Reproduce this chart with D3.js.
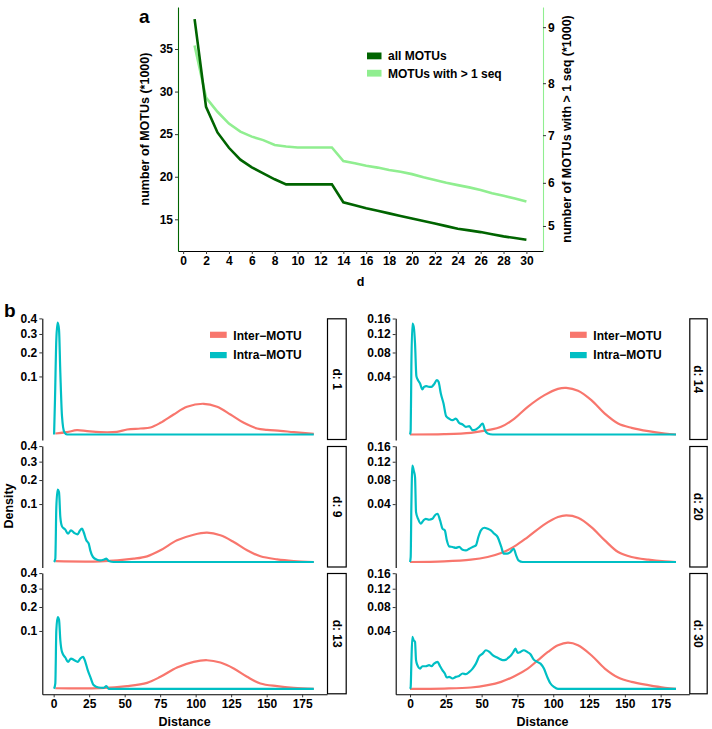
<!DOCTYPE html>
<html>
<head>
<meta charset="utf-8">
<script src="https://cdn.jsdelivr.net/npm/d3@7"></script>
<style>
  body { margin: 0; background: #fff; }
  text { font-family: "Liberation Sans", Arial, sans-serif; font-weight: bold; fill: #000; }
</style>
</head>
<body>
<div id="here"></div>
<script>
// ---- panel a data ----
var dSteps = [1,2,3,4,5,6,7,8,9,10,11,12,13,14,15,16,17,18,19,20,21,22,23,24,25,26,27,28,29,30];
var allMotus = [38.5,28.2,25.2,23.4,22.0,21.1,20.4,19.7,19.1,19.1,19.1,19.1,19.1,17.0,16.65,16.3,16.0,15.7,15.4,15.1,14.8,14.5,14.2,13.9,13.7,13.5,13.25,13.0,12.8,12.6];
var motusMulti = [8.68,7.73,7.46,7.23,7.07,6.97,6.90,6.80,6.77,6.75,6.75,6.75,6.75,6.47,6.42,6.37,6.33,6.28,6.24,6.19,6.12,6.06,6.0,5.95,5.9,5.84,5.77,5.71,5.65,5.58];
var dTicks = [0,2,4,6,8,10,12,14,16,18,20,22,24,26,28,30];
var leftTicksA = [15,20,25,30,35];
var rightTicksA = [5,6,7,8,9];
var legendA = ["all MOTUs", "MOTUs with > 1 seq"];

// ---- panel b data: [distance, density] ----
var inter1 = [[1.2,0.00003],[9.4,0.00016],[16.4,0.00056],[23.5,0.00033],[32.9,0.00016],[44.6,0.00021],[51.7,0.00074],[61.1,0.00107],[68.1,0.00146],[75.2,0.00405],[84.5,0.0119],[93.9,0.0228],[105.7,0.028],[115.1,0.0228],[124.5,0.0119],[133.9,0.00405],[143.3,0.00107],[150.3,0.00065],[159.7,0.0004],[169.1,0.00016],[183.2,0.00001]];
var intra1 = [[0.3,0],[0.94,0.0364],[1.88,0.268],[2.82,0.371],[3.76,0.328],[4.7,0.113],[5.87,0.01],[7.5,0.00016],[9.4,0],[183.2,0]];
var inter9 = [[1.2,0.00002],[32.9,0.000013],[56.4,0.00033],[65.8,0.00096],[75.2,0.00405],[86.9,0.014],[98.6,0.0222],[108.0,0.0256],[117.4,0.0212],[126.8,0.0119],[136.2,0.00405],[145.6,0.00096],[157.4,0.00021],[169.1,0.00003],[183.2,0]];
var intra9 = [[0.3,0],[1.17,0.00033],[1.88,0.09],[2.82,0.156],[3.76,0.146],[4.7,0.06],[5.87,0.0378],[8.2,0.0311],[10.1,0.0239],[12.2,0.0298],[14.6,0.025],[16.9,0.0228],[18.3,0.0286],[20.0,0.033],[21.1,0.0268],[23.0,0.014],[24.7,0.01],[25.8,0.00405],[27.7,0.00074],[30.5,0.00016],[32.9,0.00008],[35.2,0.00016],[37.1,0.00033],[38.8,0.00003],[42.3,0],[183.2,0]];
var inter13 = [[1.2,0.00001],[32.9,0.000013],[51.7,0.00021],[65.8,0.00107],[75.2,0.0043],[86.9,0.0135],[98.6,0.0217],[108.0,0.0244],[117.4,0.0206],[126.8,0.0123],[136.2,0.0043],[145.6,0.00085],[157.4,0.00021],[169.1,0.00003],[183.2,0]];
var intra13 = [[0.3,0],[1.17,0.00085],[1.88,0.102],[2.82,0.154],[3.76,0.143],[4.7,0.0705],[5.87,0.0407],[8.2,0.0292],[10.1,0.0217],[12.2,0.0274],[14.6,0.0244],[16.9,0.0217],[18.8,0.0274],[20.7,0.0305],[22.3,0.0217],[24.0,0.0104],[25.8,0.0043],[28.2,0.0004],[31.7,0.00005],[35.2,0.00003],[37.1,0.00021],[38.8,0],[183.2,0]];
var inter14 = [[0,0],[23.8,0.0000013],[42.5,0.000033],[54.2,0.00022],[63.6,0.0007],[72.9,0.003],[82.2,0.0091],[93.9,0.0184],[103.3,0.0248],[109.1,0.0259],[117.3,0.0227],[126.6,0.014],[136.0,0.0052],[145.3,0.00144],[154.7,0.00053],[166.4,0.00013],[178,0.000012],[185.7,0]];
var intra14 = [[0,0],[0.47,0.00022],[0.93,0.0544],[1.64,0.1465],[2.57,0.138],[3.5,0.0985],[4.44,0.0405],[5.6,0.0351],[7.0,0.0309],[8.64,0.0241],[9.8,0.027],[11.45,0.0278],[13.3,0.027],[14.95,0.027],[16.8,0.0301],[18.7,0.0351],[19.9,0.033],[21.5,0.02],[23.4,0.0114],[25.2,0.004],[27.3,0.003],[29.7,0.00244],[32.0,0.003],[34.3,0.00162],[36.7,0.00119],[39.0,0.0007],[41.4,0.00083],[43.7,0.00022],[46.0,0.0003],[48.4,0.0007],[50.7,0.00144],[52.3,0.00022],[54.2,0.000012],[57.7,0],[185.7,0]];
var inter20 = [[0,0],[23.8,0.000005],[42.5,0.000065],[54.2,0.0003],[63.6,0.00096],[72.9,0.0029],[82.2,0.0074],[93.9,0.0169],[103.3,0.0241],[109.1,0.0259],[117.3,0.0234],[126.6,0.0146],[136.0,0.0056],[145.3,0.00119],[154.7,0.0003],[166.4,0.000065],[178,0.000005],[185.7,0]];
var intra20 = [[0,0],[0.47,0.0003],[0.93,0.036],[1.64,0.111],[2.57,0.1],[3.5,0.086],[4.2,0.0297],[5.6,0.0223],[7.5,0.0175],[9.35,0.0206],[11.0,0.0223],[13.3,0.0213],[15.65,0.0223],[17.3,0.0259],[19.2,0.0278],[21.0,0.0206],[22.7,0.0132],[24.3,0.0119],[25.7,0.0056],[27.3,0.0029],[29.7,0.0027],[32.0,0.0024],[34.3,0.0027],[36.7,0.0018],[39.0,0.0016],[41.4,0.0021],[43.7,0.0027],[46.0,0.0033],[47.7,0.0074],[49.5,0.0119],[51.9,0.014],[54.2,0.0132],[56.5,0.0119],[58.9,0.0095],[61.2,0.0074],[63.6,0.0029],[65.4,0.00083],[67.8,0.00083],[70.1,0.00119],[72.4,0.0021],[74.1,0.00053],[75.7,0.000033],[78.7,0],[185.7,0]];
var inter30 = [[0,0],[23.8,0.000001],[42.5,0.00002],[54.2,0.00016],[63.6,0.00058],[72.9,0.0019],[82.2,0.0049],[89.3,0.0098],[96.3,0.0163],[103.3,0.0227],[110.3,0.0255],[117.3,0.0227],[126.6,0.0135],[136.0,0.0049],[145.3,0.00153],[154.7,0.00058],[166.4,0.00016],[178,0.000012],[185.7,0]];
var intra30 = [[0,0],[0.47,0.000048],[0.93,0.0076],[1.64,0.0322],[2.57,0.0282],[3.5,0.0263],[4.2,0.0098],[5.14,0.0067],[7.0,0.0049],[8.64,0.0061],[11.0,0.0061],[13.3,0.0067],[14.95,0.0061],[16.8,0.0076],[19.2,0.0087],[21.0,0.0061],[22.7,0.0041],[24.3,0.0028],[25.7,0.00153],[27.3,0.00171],[29.7,0.00127],[32.0,0.00171],[34.3,0.002],[36.7,0.0028],[39.0,0.00256],[41.4,0.0034],[43.7,0.0049],[46.0,0.0076],[48.4,0.0127],[50.7,0.0148],[53.0,0.0178],[55.4,0.0163],[57.7,0.0135],[60.0,0.0122],[62.4,0.0109],[64.7,0.0098],[67.1,0.0102],[68.7,0.0117],[70.6,0.0135],[72.2,0.0163],[73.6,0.0193],[75.2,0.0154],[77.1,0.0163],[79.4,0.0178],[81.8,0.0163],[84.1,0.0143],[86.4,0.0102],[88.8,0.0087],[91.1,0.0076],[93.5,0.0049],[95.8,0.00171],[98.1,0.00034],[100.5,0.000048],[103.3,0],[185.7,0]];
var distTicks = [0,25,50,75,100,125,150,175];
var leftTicksB = [0.1,0.2,0.3,0.4];
var rightTicksB = [0.04,0.08,0.12,0.16];
var facetLabelsL = ["d: 1","d: 9","d: 13"];
var facetLabelsR = ["d: 14","d: 20","d: 30"];
var legendB = ["Inter\u2212MOTU","Intra\u2212MOTU"];

var darkGreen = "#006400", lightGreen = "#90ee90";
var interCol = "#f8766d", intraCol = "#00bfc4";

var w = 712, h = 729;
var svg = d3.select("#here").append("svg").attr("width", w).attr("height", h);

function styleAxis(g, domainColor) {
  g.selectAll("text").style("font-size", "12px").style("font-weight", "bold").attr("fill", "#000");
  g.selectAll(".tick line").attr("stroke", "#333");
  g.select(".domain").attr("stroke", domainColor).attr("stroke-width", 1.1);
  g.attr("font-family", null);
}

// ================= panel a =================
var ax = d3.scaleLinear().domain([-0.45, 31.45]).range([178, 543]);
var ayL = d3.scaleLinear().domain([11.28, 39.93]).range([251, 7]);
var ayR = d3.scalePow().exponent(1.6).domain([4.361, 9.344]).range([251, 7]);

var ga = svg.append("g");
ga.append("g").attr("transform", "translate(0,251)")
  .call(d3.axisBottom(ax).tickValues(dTicks).tickSize(3).tickSizeOuter(0).tickPadding(2))
  .call(styleAxis, "#000");
ga.append("g").attr("transform", "translate(178,0)")
  .call(d3.axisLeft(ayL).tickValues(leftTicksA).tickSize(3).tickSizeOuter(0).tickPadding(2))
  .call(styleAxis, darkGreen);
ga.append("g").attr("transform", "translate(543,0)")
  .call(d3.axisRight(ayR).tickValues(rightTicksA).tickFormat(d3.format("d")).tickSize(3).tickSizeOuter(0).tickPadding(2))
  .call(styleAxis, lightGreen);

var lineL = d3.line().x(function(d, i) { return ax(dSteps[i]); }).y(function(d) { return ayL(d); });
var lineR = d3.line().x(function(d, i) { return ax(dSteps[i]); }).y(function(d) { return ayR(d); });
ga.append("path").attr("d", lineR(motusMulti)).attr("fill", "none").attr("stroke", lightGreen).attr("stroke-width", 2.6);
ga.append("path").attr("d", lineL(allMotus)).attr("fill", "none").attr("stroke", darkGreen).attr("stroke-width", 2.6);

[darkGreen, lightGreen].forEach(function(c, i) {
  ga.append("rect").attr("x", 367).attr("y", 52.5 + i * 17.3).attr("width", 14.5).attr("height", 6.8).attr("fill", c);
  ga.append("text").attr("x", 388).attr("y", 60.3 + i * 17.3).style("font-size", "12px").text(legendA[i]);
});

ga.append("text").attr("x", 139).attr("y", 23).style("font-size", "19px").text("a");
ga.append("text").attr("x", 360.5).attr("y", 286).attr("text-anchor", "middle").style("font-size", "12.5px").text("d");
ga.append("text").attr("transform", "translate(149,129) rotate(-90)").attr("text-anchor", "middle")
  .style("font-size", "12.5px").text("number of MOTUs (*1000)");
ga.append("text").attr("transform", "translate(571,129) rotate(-90)").attr("text-anchor", "middle")
  .style("font-size", "12.5px").text("number of MOTUs with > 1 seq (*1000)");

// ================= panel b =================
var rowsY = [[318.3, 440], [446, 567.5], [573, 694.3]];
var columns = [
  { x0: 42.3, x1: 327, strip: [327, 346.7], xdom: [-8, 192.5], ydom: [-0.0009, 0.4007], ticks: leftTicksB,
    fmt: d3.format(".1f"), labels: facetLabelsL, inter: [inter1, inter9, inter13], intra: [intra1, intra9, intra13], legX: 210 },
  { x0: 395.7, x1: 689.3, strip: [689.3, 707.7], xdom: [-10, 195], ydom: [-0.00036, 0.1606], ticks: rightTicksB,
    fmt: d3.format(".2f"), labels: facetLabelsR, inter: [inter14, inter20, inter30], intra: [intra14, intra20, intra30], legX: 570 }
];

var gb = svg.append("g");
columns.forEach(function(col) {
  var xs = d3.scaleLinear().domain(col.xdom).range([col.x0, col.x1]);
  rowsY.forEach(function(r, ri) {
    var ys = d3.scaleSqrt().domain(col.ydom).range([r[1], r[0]]);
    var g = gb.append("g");
    g.append("g").attr("transform", "translate(" + col.x0 + ",0)")
      .call(d3.axisLeft(ys).tickValues(col.ticks).tickFormat(col.fmt).tickSize(3).tickSizeOuter(0).tickPadding(2))
      .call(styleAxis, "#000");
    if (ri === 2) {
      g.append("g").attr("transform", "translate(0," + r[1] + ")")
        .call(d3.axisBottom(xs).tickValues(distTicks).tickSize(3).tickSizeOuter(0).tickPadding(2))
        .call(styleAxis, "#000");
    }
    var smooth = d3.line().curve(d3.curveCatmullRom.alpha(0.5))
      .x(function(d) { return xs(d[0]); }).y(function(d) { return Math.min(ys(d[1]), ys(0)); });
    var jagged = d3.line().curve(d3.curveMonotoneX)
      .x(function(d) { return xs(d[0]); }).y(function(d) { return ys(d[1]); });
    g.append("path").attr("d", smooth(col.inter[ri])).attr("fill", "none").attr("stroke", interCol).attr("stroke-width", 2.2);
    g.append("path").attr("d", jagged(col.intra[ri])).attr("fill", "none").attr("stroke", intraCol).attr("stroke-width", 2.2);
    // strip
    g.append("rect").attr("x", col.strip[0] + 0.5).attr("y", r[0] + 0.5)
      .attr("width", col.strip[1] - col.strip[0] - 1).attr("height", r[1] - r[0] - 1)
      .attr("fill", "#fff").attr("stroke", "#000").attr("stroke-width", 1.2);
    g.append("text").attr("transform", "translate(" + ((col.strip[0] + col.strip[1]) / 2) + "," + ((r[0] + r[1]) / 2) + ") rotate(90)")
      .attr("text-anchor", "middle").attr("dy", "0.35em").style("font-size", "12px").text(col.labels[ri]);
  });
  [interCol, intraCol].forEach(function(c, i) {
    gb.append("rect").attr("x", col.legX).attr("y", 331.7 + i * 20.3).attr("width", 16.7).attr("height", 6.2).attr("fill", c);
    gb.append("text").attr("x", col.legX + 23.3).attr("y", 339.6 + i * 19.8).style("font-size", "12px").text(legendB[i]);
  });
  gb.append("text").attr("x", (col.x0 + col.x1) / 2).attr("y", 726).attr("text-anchor", "middle")
    .style("font-size", "12.5px").text("Distance");
});

gb.append("text").attr("x", 4).attr("y", 317).style("font-size", "19px").text("b");
gb.append("text").attr("transform", "translate(12.5,506) rotate(-90)").attr("text-anchor", "middle")
  .style("font-size", "12.5px").text("Density");
</script>
</body>
</html>
